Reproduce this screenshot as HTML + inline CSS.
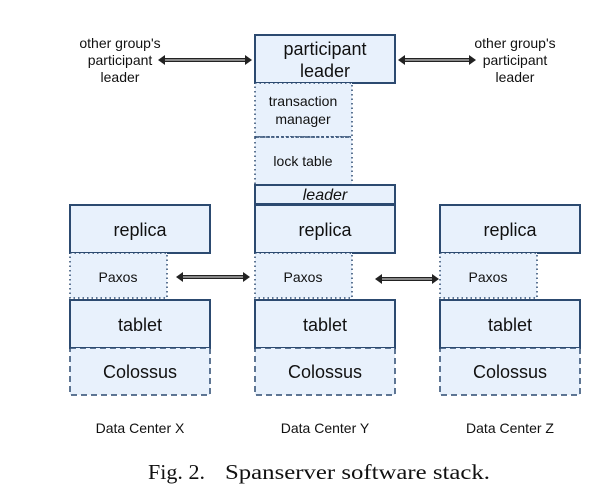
<!DOCTYPE html>
<html><head><style>body{margin:0;background:#fff}svg{display:block}</style></head><body>
<svg width="608" height="493" xmlns="http://www.w3.org/2000/svg" font-family="Liberation Sans, sans-serif">
<g fill="#e8f1fc" stroke="#2c4a70">
<rect x="255" y="35" width="140" height="48" stroke-width="2"/>
<rect x="255" y="83" width="97" height="54" stroke-width="1.5" stroke-dasharray="1.5,3"/>
<rect x="255" y="137" width="97" height="48" stroke-width="1.5" stroke-dasharray="1.5,3"/>
<line x1="256" y1="137" x2="351" y2="137" stroke-width="1.5" stroke-dasharray="3,2"/>
<rect x="255" y="185" width="140" height="19" stroke-width="2"/>
<rect x="255" y="205" width="140" height="48" stroke-width="2"/>
<rect x="255" y="253" width="97" height="45" stroke-width="1.5" stroke-dasharray="1.5,3"/>
<rect x="255" y="300" width="140" height="48" stroke-width="2"/>
<rect x="255" y="348" width="140" height="47" stroke-width="1.5" stroke-dasharray="6,4"/>
<rect x="70" y="205" width="140" height="48" stroke-width="2"/>
<rect x="70" y="253" width="97" height="45" stroke-width="1.5" stroke-dasharray="1.5,3"/>
<rect x="70" y="300" width="140" height="48" stroke-width="2"/>
<rect x="70" y="348" width="140" height="47" stroke-width="1.5" stroke-dasharray="6,4"/>
<rect x="440" y="205" width="140" height="48" stroke-width="2"/>
<rect x="440" y="253" width="97" height="45" stroke-width="1.5" stroke-dasharray="1.5,3"/>
<rect x="440" y="300" width="140" height="48" stroke-width="2"/>
<rect x="440" y="348" width="140" height="47" stroke-width="1.5" stroke-dasharray="6,4"/>
</g>
<g stroke="#222" stroke-width="4">
<line x1="164" y1="60" x2="246" y2="60"/>
<line x1="404" y1="60" x2="470" y2="60"/>
<line x1="182" y1="277" x2="244" y2="277"/>
<line x1="381" y1="279" x2="433" y2="279"/>
</g>
<g stroke="#aaa" stroke-width="1.5">
<line x1="164" y1="60" x2="246" y2="60"/>
<line x1="404" y1="60" x2="470" y2="60"/>
<line x1="182" y1="277" x2="244" y2="277"/>
<line x1="381" y1="279" x2="433" y2="279"/>
</g>
<g fill="#222">
<polygon points="158,60 165,55 165,65"/><polygon points="252,60 245,55 245,65"/>
<polygon points="398,60 405,55 405,65"/><polygon points="476,60 469,55 469,65"/>
<polygon points="176,277 183,272 183,282"/><polygon points="250,277 243,272 243,282"/>
<polygon points="375,279 382,274 382,284"/><polygon points="439,279 432,274 432,284"/>
</g>
<g fill="#111" text-anchor="middle">
<text x="325" y="55" font-size="18">participant</text>
<text x="325" y="77" font-size="18">leader</text>
<text x="303" y="106" font-size="14">transaction</text>
<text x="303" y="124" font-size="14">manager</text>
<text x="303" y="166" font-size="14">lock table</text>
<text x="325" y="200" font-size="16" font-style="italic">leader</text>
<text x="140" y="236" font-size="18">replica</text>
<text x="325" y="236" font-size="18">replica</text>
<text x="510" y="236" font-size="18">replica</text>
<text x="118" y="282" font-size="14">Paxos</text>
<text x="303" y="282" font-size="14">Paxos</text>
<text x="488" y="282" font-size="14">Paxos</text>
<text x="140" y="331" font-size="18">tablet</text>
<text x="325" y="331" font-size="18">tablet</text>
<text x="510" y="331" font-size="18">tablet</text>
<text x="140" y="378" font-size="18">Colossus</text>
<text x="325" y="378" font-size="18">Colossus</text>
<text x="510" y="378" font-size="18">Colossus</text>
<text x="140" y="433" font-size="14">Data Center X</text>
<text x="325" y="433" font-size="14">Data Center Y</text>
<text x="510" y="433" font-size="14">Data Center Z</text>
<text x="120" y="48" font-size="14">other group's</text>
<text x="120" y="65" font-size="14">participant</text>
<text x="120" y="82" font-size="14">leader</text>
<text x="515" y="48" font-size="14">other group's</text>
<text x="515" y="65" font-size="14">participant</text>
<text x="515" y="82" font-size="14">leader</text>
</g>
<g fill="#111" font-size="21" font-family="Liberation Serif, serif">
<text x="148" y="479" textLength="57" lengthAdjust="spacingAndGlyphs">Fig. 2.</text>
<text x="225" y="479" textLength="265" lengthAdjust="spacingAndGlyphs">Spanserver software stack.</text>
</g>
</svg>
</body></html>
